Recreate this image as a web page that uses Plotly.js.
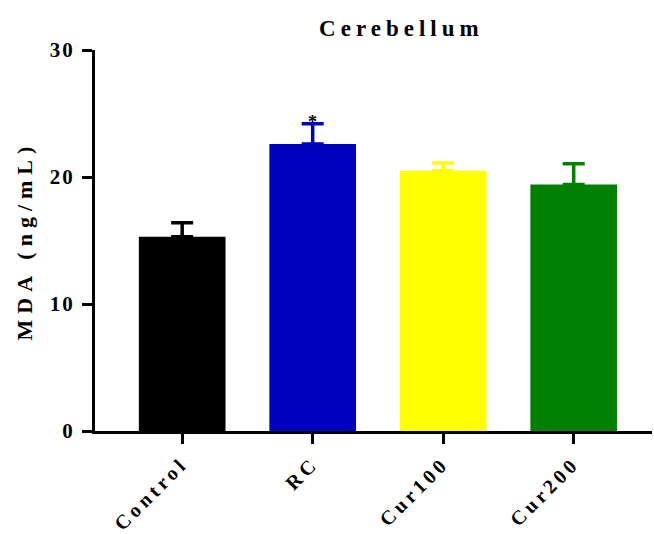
<!DOCTYPE html>
<html>
<head>
<meta charset="utf-8">
<script src="https://cdn.plot.ly/plotly-3.0.1.min.js"></script>
<style>
  html, body { margin: 0; padding: 0; background: #fff; }
  #chart { width: 654px; height: 534px; }
  .gtitle { letter-spacing: 5px; }
  .annotation-text { letter-spacing: 6px; }
  .xtick text { letter-spacing: 4px; }
  .ytick text { letter-spacing: 2px; }
</style>
</head>
<body>
<div id="chart"></div>
<script>
const categories = ["Control", "RC", "Cur100", "Cur200"];
const meanValues = [15.3, 22.6, 20.5, 19.4];
const errorValues = [1.1, 1.6, 0.6, 1.65];
const barColors = ["#000000", "#0000C0", "#FFFF00", "#008000"];
const yTickValues = [0, 10, 20, 30];
const yTickLabels = ["0", "10", "20", "30"];
const yTitleText = "MDA (ng/mL)";
const significance = [{ category: "RC", mark: "*" }];

const serif = "Liberation Serif, Times New Roman, serif";

const traces = categories.map((c, i) => ({
  type: "bar",
  x: [c],
  y: [meanValues[i]],
  width: 0.664,
  marker: { color: barColors[i], line: { width: 0 } },
  error_y: {
    type: "data",
    symmetric: false,
    array: [errorValues[i]],
    arrayminus: [0],
    width: 11,
    thickness: 3.5,
    color: barColors[i]
  },
  hoverinfo: "skip"
}));

const annotations = significance.map(s => {
  const i = categories.indexOf(s.category);
  return {
    x: s.category,
    y: meanValues[i] + errorValues[i],
    xref: "x", yref: "y",
    text: s.mark,
    showarrow: false,
    yanchor: "bottom",
    yshift: -10,
    xshift: 3,
    font: { family: serif, size: 18, color: "#000", weight: "bold" }
  };
});

annotations.push({
  text: yTitleText,
  xref: "paper", yref: "paper",
  x: -0.1257, y: 0.5,
  xanchor: "center", yanchor: "middle",
  textangle: -90,
  showarrow: false,
  font: { family: serif, size: 22, color: "#000", weight: "bold" }
});

const layout = {
  width: 654,
  height: 534,
  margin: { l: 95, r: 2, t: 50, b: 103 },
  paper_bgcolor: "#fff",
  plot_bgcolor: "#fff",
  showlegend: false,
  barmode: "overlay",
  title: {
    text: "Cerebellum",
    x: 0.55, xref: "paper", xanchor: "center",
    y: 0.947, yref: "container", yanchor: "middle",
    font: { family: serif, size: 23, color: "#000", weight: "bold" }
  },
  xaxis: {
    type: "category",
    categoryarray: categories,
    range: [-0.668, 3.60],
    showline: true,
    linecolor: "#000",
    linewidth: 3,
    ticks: "outside",
    ticklen: 10,
    tickwidth: 3,
    tickcolor: "#000",
    tickangle: -45,
    showgrid: false,
    zeroline: false,
    tickfont: { family: serif, size: 20, color: "#000", weight: "bold" }
  },
  yaxis: {
    range: [0, 30],
    tickvals: yTickValues,
    ticktext: yTickLabels,
    showline: true,
    linecolor: "#000",
    linewidth: 3,
    ticks: "outside",
    ticklen: 10,
    tickwidth: 3,
    tickcolor: "#000",
    ticklabelstandoff: 3,
    showgrid: false,
    zeroline: false,
    tickfont: { family: serif, size: 21, color: "#000", weight: "bold" }
  },
  annotations: annotations
};

Plotly.newPlot("chart", traces, layout, { displayModeBar: false, staticPlot: true });
</script>
</body>
</html>
